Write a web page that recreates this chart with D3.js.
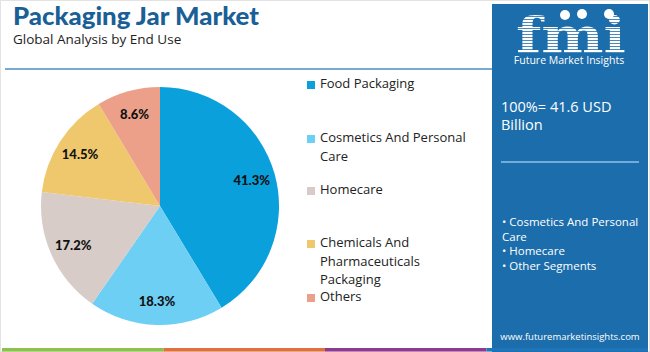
<!DOCTYPE html>
<html>
<head>
<meta charset="utf-8">
<script src="https://cdn.jsdelivr.net/npm/d3@7"></script>
<style>
  body { margin: 0; background: #fff; }
  svg { display: block; font-family: "Open Sans", sans-serif; }
</style>
</head>
<body>
<div id="chart"></div>
<script>
// data
const categories = ['Food Packaging', 'Cosmetics And Personal Care', 'Homecare', 'Chemicals And Pharmaceuticals Packaging', 'Others'];
const shares = [41.3, 18.3, 17.2, 14.5, 8.6];
const colors = ['#09a0dc', '#6dcff4', '#d7ccc8', '#efc86d', '#eca08a'];
// legend labels wrapped the way the picture shows them
const legendLines = [['Food Packaging'], ['Cosmetics And Personal', 'Care'], ['Homecare'], ['Chemicals And', 'Pharmaceuticals', 'Packaging'], ['Others']];
const legendY = [88, 142, 194, 247, 301];
const panelBullets = [['• Cosmetics And Personal', 'Care'], ['• Homecare'], ['• Other Segments']];
const totalText = ['100%= 41.6 USD', 'Billion'];

const W = 650, H = 352;
const svg = d3.select('#chart').append('svg').attr('width', W).attr('height', H);

// frame
svg.append('rect').attr('x', 0.5).attr('y', 0.5).attr('width', W - 1).attr('height', H - 1)
  .attr('fill', '#fff').attr('stroke', '#e3e3e3');

// title
svg.append('text').attr('x', 13).attr('y', 25)
  .style('font-family', 'Lato, sans-serif').style('font-weight', 900).style('font-size', '24px')
  .attr('textLength', 246).attr('lengthAdjust', 'spacingAndGlyphs')
  .attr('fill', '#1a5f96').text('Packaging Jar Market');
svg.append('text').attr('x', 13).attr('y', 44)
  .style('font-size', '13.5px').attr('fill', '#222').text('Global Analysis by End Use');

svg.append('line').attr('x1', 5).attr('x2', 492).attr('y1', 69).attr('y2', 69)
  .attr('stroke', '#4b8dc1').attr('stroke-width', 1.5);

// pie
const cx = 160, cy = 206, r = 119;
const pie = d3.pie().sort(null).value(d => d)(shares);
const arc = d3.arc().innerRadius(0).outerRadius(r);
const labelArc = d3.arc().innerRadius(r * 0.8).outerRadius(r * 0.8);
const g = svg.append('g').attr('transform', `translate(${cx},${cy})`);
g.selectAll('path').data(pie).join('path')
  .attr('d', arc).attr('fill', (d, i) => colors[i]);
g.selectAll('text').data(pie).join('text')
  .attr('transform', d => `translate(${labelArc.centroid(d)})`)
  .attr('text-anchor', 'middle').attr('dy', '0.35em')
  .style('font-family', 'Lato, sans-serif').style('font-weight', 900).style('font-size', '13px')
  .attr('fill', '#111').text(d => d.data.toFixed(1) + '%');

// legend
const leg = svg.append('g');
categories.forEach((c, i) => {
  leg.append('rect').attr('x', 307).attr('y', legendY[i] - 7).attr('width', 8).attr('height', 8)
    .attr('fill', colors[i]);
  legendLines[i].forEach((t, j) => {
    leg.append('text').attr('x', 320).attr('y', legendY[i] + j * 18.5)
      .style('font-size', '13px').attr('fill', '#222').text(t);
  });
});

// right panel
const px = 492;
svg.append('rect').attr('x', px).attr('y', 4).attr('width', 156).attr('height', H - 4).attr('fill', '#1c6dab');

// logo: striped letters, stripes clipped by the "fmi" text
const defs = svg.append('defs');
defs.append('clipPath').attr('id', 'fmiClip').append('text')
  .attr('x', 571).attr('y', 53).attr('text-anchor', 'middle')
  .style('font-family', '"DejaVu Serif", serif').style('font-weight', 'bold').style('font-size', '50px')
  .attr('textLength', 110).attr('lengthAdjust', 'spacingAndGlyphs')
  .text('fmi');
const logo = svg.append('g');
logo.append('g').attr('clip-path', 'url(#fmiClip)')
  .selectAll('rect').data(d3.range(14, 54, 3)).join('rect')
  .attr('x', 505).attr('width', 130).attr('y', d => d).attr('height', 2.2).attr('fill', '#fff');
[[565, 15], [582, 14], [609, 14]].forEach(([x, y]) => {
  logo.append('circle').attr('cx', x).attr('cy', y).attr('r', 5).attr('fill', '#fff');
});
logo.append('text').attr('x', 569).attr('y', 64).attr('text-anchor', 'middle')
  .style('font-size', '10.5px').attr('fill', '#fff').text('Future Market Insights');

totalText.forEach((t, i) => {
  svg.append('text').attr('x', 501).attr('y', 112 + i * 18)
    .style('font-size', '14.5px').attr('fill', '#fff').text(t);
});
svg.append('line').attr('x1', 501).attr('x2', 639).attr('y1', 162).attr('y2', 162)
  .attr('stroke', '#8fc3ea').attr('stroke-width', 1.5);

let by = 226;
panelBullets.forEach(lines => {
  lines.forEach(t => {
    svg.append('text').attr('x', 502).attr('y', by)
      .style('font-size', '11.5px').attr('fill', '#fff').text(t);
    by += 14.5;
  });
});

svg.append('text').attr('x', 570).attr('y', 340).attr('text-anchor', 'middle')
  .style('font-size', '9.5px').attr('fill', '#fff').text('www.futuremarketinsights.com');

// bottom colour strip
const strip = ['#8bc34a', '#e2703a', '#8e3a8e', '#1f75b9'];
const sx = d3.scaleBand().domain(d3.range(4)).range([2, 648]);
svg.append('g').selectAll('rect').data(strip).join('rect')
  .attr('x', (d, i) => sx(i)).attr('y', 348).attr('width', sx.bandwidth()).attr('height', 3.5)
  .attr('fill', d => d);
</script>
</body>
</html>
